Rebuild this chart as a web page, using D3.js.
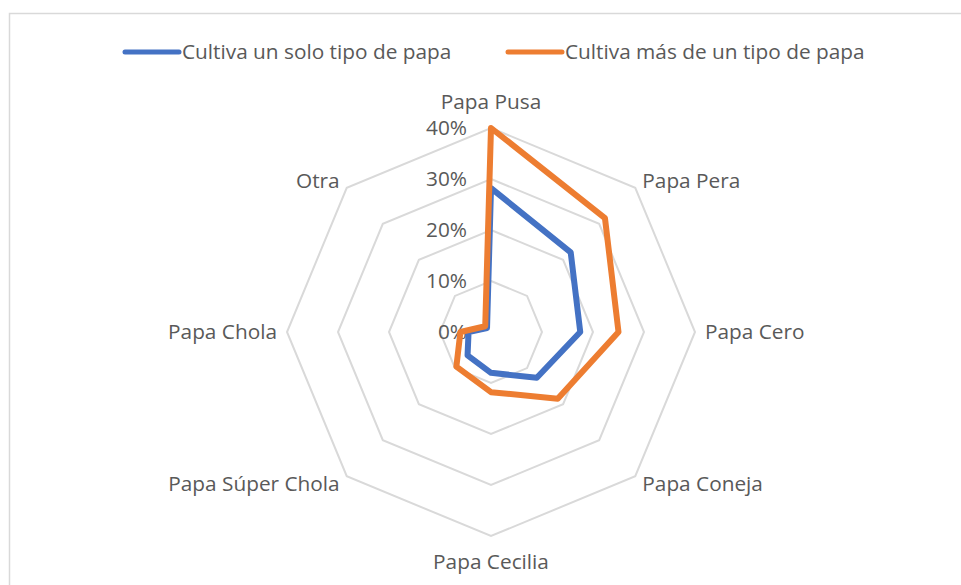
<!DOCTYPE html>
<html>
<head>
<meta charset="utf-8">
<script src="https://cdn.jsdelivr.net/npm/d3@7"></script>
<style>
    body { margin: 0; background: #fff; }
    svg { display: block; font-family: 'Open Sans', Lato, sans-serif; }
</style>
</head>
<body>
<svg id="chart" width="961" height="585"></svg>
<script>
// DATA
const categories = ['Papa Pusa', 'Papa Pera', 'Papa Cero', 'Papa Coneja', 'Papa Cecilia', 'Papa Súper Chola', 'Papa Chola', 'Otra'];
const seriesNames = ['Cultiva un solo tipo de papa', 'Cultiva más de un tipo de papa'];
const unSolo = [0.282, 0.221, 0.175, 0.127, 0.080, 0.065, 0.044, 0.011];
const masDeUno = [0.400, 0.316, 0.250, 0.185, 0.118, 0.096, 0.060, 0.016];
const ticks = [0, 0.1, 0.2, 0.3, 0.4];
const colors = ['#4472C4', '#ED7D31'];

const svg = d3.select('#chart');
const fontSize = 20.8;

// FRAME
svg.append('rect')
    .attr('x', 9.5).attr('y', 13.5)
    .attr('width', 1000).attr('height', 1000)
    .attr('fill', 'none')
    .attr('stroke', '#d9d9d9')
    .attr('stroke-width', 1.5);

// CENTER + SCALES
const cx = 491, cy = 332;
const r = d3.scaleLinear().domain([0, 0.4]).range([0, 204]);
const angle = d3.scalePoint().domain(categories).range([0, 2 * Math.PI * 7 / 8]);

const g = svg.append('g').attr('transform', `translate(${cx},${cy})`);

// GRID RINGS
const ring = d3.lineRadial()
    .angle(d => angle(d))
    .curve(d3.curveLinearClosed);

g.selectAll('.ring')
    .data(ticks.slice(1))
    .enter()
    .append('path')
    .attr('class', 'ring')
    .attr('d', t => ring.radius(() => r(t))(categories))
    .attr('fill', 'none')
    .attr('stroke', '#d9d9d9')
    .attr('stroke-width', 2);

// TICK LABELS
g.selectAll('.tick-label')
    .data(ticks)
    .enter()
    .append('text')
    .attr('x', -24)
    .attr('y', t => -r(t))
    .attr('dy', '0.35em')
    .attr('text-anchor', 'end')
    .attr('font-size', fontSize)
    .attr('fill', '#595959')
    .text(d3.format('.0%'));

// SERIES
const line = d3.lineRadial()
    .angle((d, i) => angle(categories[i]))
    .radius(d => r(d))
    .curve(d3.curveLinearClosed);

[unSolo, masDeUno].forEach((vals, i) => {
    g.append('path')
        .attr('d', line(vals))
        .attr('fill', 'none')
        .attr('stroke', colors[i])
        .attr('stroke-width', 6)
        .attr('stroke-linejoin', 'round');
});

// CATEGORY LABELS
const labelR = r(0.4) + 10;
categories.forEach(c => {
    const a = angle(c);
    const sx = Math.sin(a), sy = -Math.cos(a);
    let anchor = 'middle';
    if (sx > 0.1) anchor = 'start';
    if (sx < -0.1) anchor = 'end';
    let extra = 0;
    if (Math.abs(sx) < 0.1) extra = sy < 0 ? -16 : 16;
    g.append('text')
        .attr('x', sx * labelR)
        .attr('y', sy * labelR + extra)
        .attr('dy', '0.35em')
        .attr('text-anchor', anchor)
        .attr('font-size', fontSize)
        .attr('fill', '#595959')
        .text(c);
});

// LEGEND
const legendX = [125, 508];
const legend = svg.append('g').attr('transform', 'translate(0,52)');
seriesNames.forEach((name, i) => {
    legend.append('line')
        .attr('x1', legendX[i]).attr('x2', legendX[i] + 54)
        .attr('y1', 0).attr('y2', 0)
        .attr('stroke', colors[i])
        .attr('stroke-width', 5)
        .attr('stroke-linecap', 'round');
    legend.append('text')
        .attr('x', legendX[i] + 57)
        .attr('y', 0)
        .attr('dy', '0.35em')
        .attr('font-size', fontSize)
        .attr('fill', '#595959')
        .text(name);
});
</script>
</body>
</html>
